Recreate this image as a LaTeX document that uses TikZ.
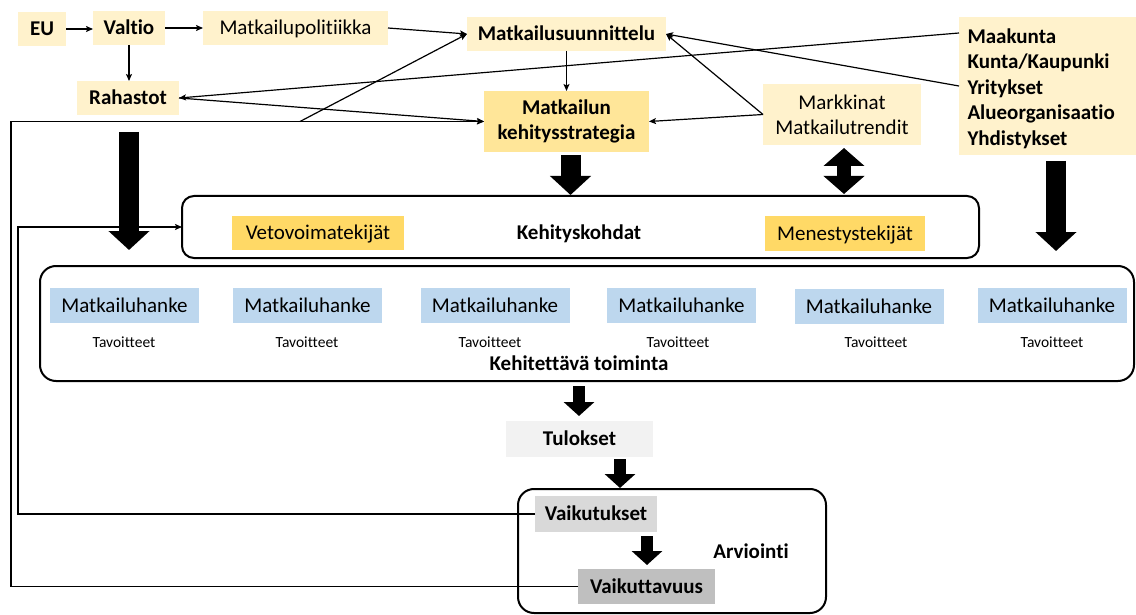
\documentclass[tikz,border=0pt]{standalone}
\usepackage{fontspec}
\setmainfont{Carlito}[Ligatures=NoCommon]
\usetikzlibrary{arrows.meta,calc}
\definecolor{yl}{HTML}{FFF2CC}
\definecolor{ym}{HTML}{FFE699}
\definecolor{yd}{HTML}{FFD966}
\definecolor{bl}{HTML}{BDD7EE}
\definecolor{ga}{HTML}{F2F2F2}
\definecolor{gb}{HTML}{D9D9D9}
\definecolor{gc}{HTML}{BFBFBF}
\begin{document}
\begin{tikzpicture}[x=1pt,y=-1pt,
  every node/.style={inner sep=0pt, outer sep=0pt},
  lbl/.style={font=\fontsize{21}{25}\selectfont},
  blbl/.style={font=\fontsize{21}{25}\selectfont\bfseries},
  small/.style={font=\fontsize{15.5}{18}\selectfont},
  one/.style={text height=15.5pt, text depth=2pt},
  conn/.style={line width=1.2pt, -{Stealth[length=7pt,width=6pt,inset=1.5pt]}},
  frame/.style={draw, line width=2pt, rounded corners=12pt},
  blk/.style={line width=20pt, draw=black, -{Triangle[length=19pt,width=40pt]}},
  blkdbl/.style={line width=14pt, draw=black, {Triangle[length=18pt,width=40pt]}-{Triangle[length=18pt,width=40pt]}},
  blks/.style={line width=12pt, draw=black, -{Triangle[length=14pt,width=30pt]}}
]
\useasboundingbox (0,0) rectangle (1136,615);

% top row
\node[fill=yl, minimum width=48, minimum height=34, blbl, one] (eu) at (42,29) {EU};
\node[fill=yl, minimum width=72, minimum height=34, blbl, one] (valtio) at (129,28) {Valtio};
\node[fill=yl, minimum width=185, minimum height=34, lbl, one] (mpol) at (295.5,28) {Matkailupolitiikka};
\node[fill=yl, minimum width=102, minimum height=34, blbl, one] (rah) at (128,98) {Rahastot};
\node[fill=yl, minimum width=199, minimum height=34, blbl, one] (msuun) at (566.5,34) {Matkailusuunnittelu};
\node[fill=ym, minimum width=165, minimum height=61, blbl, align=center] (strat) at (566.5,121.5) {Matkailun\\kehitysstrategia};
\node[fill=yl, minimum width=158, minimum height=61, lbl, align=center] (markk) at (842,114.5) {Markkinat\\Matkailutrendit};
\node[fill=yl, minimum width=177, minimum height=138] (maak) at (1047.5,86) {};
\node[font=\fontsize{21}{25.5}\selectfont\bfseries, align=left, text width=160pt] (maakt) at (1047.5,88.5) {Maakunta\\Kunta/Kaupunki\\Yritykset\\Alueorganisaatio\\Yhdistykset};

% Kehityskohdat
\node[frame, minimum width=797, minimum height=62] (keh) at (580.5,227) {};
\node[fill=yd, minimum width=172, minimum height=34, lbl, one] (veto) at (318,233) {Vetovoimatekijät};
\node[blbl, one] (kehl) at (579,233) {Kehityskohdat};
\node[fill=yd, minimum width=160, minimum height=35, lbl, one] (men) at (845,233.5) {Menestystekijät};

% Kehitettava toiminta
\node[frame, rounded corners=16pt, minimum width=1094, minimum height=115] (kt) at (587,323.5) {};
\node[fill=bl, minimum width=149, minimum height=35, lbl, one] (h1) at (124.5,305.5) {Matkailuhanke};
\node[fill=bl, minimum width=149, minimum height=35, lbl, one] (h2) at (307.5,305.5) {Matkailuhanke};
\node[fill=bl, minimum width=149, minimum height=35, lbl, one] (h3) at (495,305.5) {Matkailuhanke};
\node[fill=bl, minimum width=149, minimum height=35, lbl, one] (h4) at (681.5,305.5) {Matkailuhanke};
\node[fill=bl, minimum width=149, minimum height=35, lbl, one] (h5) at (869,306.5) {Matkailuhanke};
\node[fill=bl, minimum width=149, minimum height=35, lbl, one] (h6) at (1052,305.5) {Matkailuhanke};
\node[small] (t1) at (124,342) {Tavoitteet};
\node[small] (t2) at (307,342) {Tavoitteet};
\node[small] (t3) at (490,342) {Tavoitteet};
\node[small] (t4) at (678,342) {Tavoitteet};
\node[small] (t5) at (876,342) {Tavoitteet};
\node[small] (t6) at (1052,342) {Tavoitteet};
\node[blbl, one] (ktl) at (579,364) {Kehitettävä toiminta};

% bottom
\node[fill=ga, minimum width=147, minimum height=36, blbl, one] (tul) at (579.5,439) {Tulokset};
\node[frame, rounded corners=16pt, minimum width=308, minimum height=124] (arv) at (672,551) {};
\node[fill=gb, minimum width=122, minimum height=36, blbl, one] (vku) at (596,514) {Vaikutukset};
\node[fill=gc, minimum width=137, minimum height=35, blbl, one] (vkt) at (646.5,586.5) {Vaikuttavuus};
\node[blbl, one] (arvl) at (751,552) {Arviointi};

% thin connectors
\draw[conn] (eu.east) -- (eu.east -| valtio.west);
\draw[conn] (valtio.east) -- (mpol.west);
\draw[conn] (mpol.east) -- (msuun.west);
\draw[conn] (valtio.south) -- (valtio.south |- rah.north);
\draw[conn] (msuun.south) -- (strat.north);
\coordinate (mk1) at (959,33);
\draw[conn] (mk1) -- (rah.east);
\draw[conn] (maak.west) -- (msuun.east);
\draw[conn] (markk.west) -- (msuun.east);
\draw[conn] (markk.west) -- (strat.east);
\draw[conn] (rah.east) -- (strat.west);
\coordinate (fb1) at (11,121.5);
\draw[conn] (vkt.west) -| (fb1) -- (strat.west);
\coordinate (br) at (300,121.5);
\draw[conn] (br) -- (msuun.west);
\coordinate (fb2) at (18,227);
\draw[conn] (vku.west) -| (fb2) -- (keh.west);

% block arrows
\coordinate (a1s) at (129,132);
\coordinate (a1e) at (129,250);
\draw[blk] (a1s) -- (a1e);
\draw[blk] ($(strat.south)+(4,3)$) -- ($(strat.south |- keh.north)+(4,-1)$);
\coordinate (a3s) at (1056,161);
\coordinate (a3e) at (1056,251);
\draw[blk] (a3s) -- (a3e);
\draw[blkdbl] ($(markk.south)+(2,3)$) -- ($(markk.south |- keh.north)+(2,-2)$);
\draw[blks] ($(kt.south)+(-8,5)$) -- ($(tul.north)+(-0.5,-5)$);
\draw[blks] ($(tul.south)+(40.5,2)$) -- ($(tul.south |- arv.north)+(40.5,-1)$);
\draw[blks] ($(vku.south)+(51,4)$) -- ($(vkt.north)+(0.5,-4)$);
\end{tikzpicture}
\end{document}
